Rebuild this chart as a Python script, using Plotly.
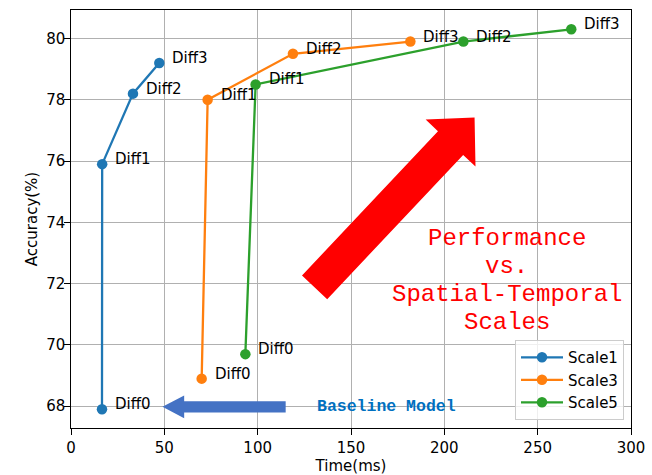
import math
import plotly.graph_objects as go

# ---------------- data ----------------
series_names = ["Scale1", "Scale3", "Scale5"]
series_colors = ["#1f77b4", "#ff7f0e", "#2ca02c"]
point_labels = ["Diff0", "Diff1", "Diff2", "Diff3"]

scale1_time = [16.6, 16.7, 33.2, 47.3]
scale1_acc = [67.9, 75.9, 78.2, 79.2]
scale3_time = [70.0, 73.2, 118.9, 181.8]
scale3_acc = [68.9, 78.0, 79.5, 79.9]
scale5_time = [93.4, 98.9, 210.2, 268.0]
scale5_acc = [69.7, 78.5, 79.9, 80.3]

x_ticks = [0, 50, 100, 150, 200, 250, 300]
y_ticks = [68, 70, 72, 74, 76, 78, 80]

title_lines = ["Performance", "vs.", "Spatial-Temporal", "Scales"]
baseline_text = "Baseline Model"

# ---------------- layout constants ----------------
W, H = 652, 475
ML, MR, MT, MB = 71, 21, 10, 47
XR = [0, 300]
YR = [67.29, 80.93]
PW, PH = W - ML - MR, H - MT - MB


def to_px(x, y):
    return (ML + (x - XR[0]) / (XR[1] - XR[0]) * PW,
            MT + (YR[1] - y) / (YR[1] - YR[0]) * PH)


def to_data(px, py):
    return (XR[0] + (px - ML) / PW * (XR[1] - XR[0]),
            YR[1] - (py - MT) / PH * (YR[1] - YR[0]))


def arrow_path(tail, tip, shaft_w, head_w, head_l):
    tx, ty = to_px(*tail)
    hx, hy = to_px(*tip)
    dx, dy = hx - tx, hy - ty
    L = math.hypot(dx, dy)
    ux, uy = dx / L, dy / L
    nx, ny = -uy, ux
    bx, by = hx - ux * head_l, hy - uy * head_l
    pts = [
        (tx + nx * shaft_w / 2, ty + ny * shaft_w / 2),
        (bx + nx * shaft_w / 2, by + ny * shaft_w / 2),
        (bx + nx * head_w / 2, by + ny * head_w / 2),
        (hx, hy),
        (bx - nx * head_w / 2, by - ny * head_w / 2),
        (bx - nx * shaft_w / 2, by - ny * shaft_w / 2),
        (tx - nx * shaft_w / 2, ty - ny * shaft_w / 2),
    ]
    d = []
    for i, (px, py) in enumerate(pts):
        x, y = to_data(px, py)
        d.append(("M" if i == 0 else "L") + f"{x:.4f},{y:.4f}")
    return " ".join(d) + " Z"


fig = go.Figure()

all_series = [
    (scale1_time, scale1_acc),
    (scale3_time, scale3_acc),
    (scale5_time, scale5_acc),
]

annotations = []
for name, color, (xs, ys) in zip(series_names, series_colors, all_series):
    fig.add_trace(go.Scatter(
        x=xs, y=ys, mode="lines+markers", name=name,
        line=dict(color=color, width=2.3),
        marker=dict(color=color, size=10.5),
    ))
    for lab, x, y in zip(point_labels, xs, ys):
        annotations.append(dict(
            x=x, y=y, xref="x", yref="y", text=lab, showarrow=False,
            xanchor="left", yanchor="middle", xshift=11, yshift=5,
            font=dict(family="DejaVu Sans", size=15, color="black"),
        ))

# Red big arrow
red_tail, red_tip = (130.5, 71.88), (216.2, 77.42)
# Blue arrow
blue_tail, blue_tip = (115.0, 67.98), (49.0, 67.98)

shapes = [
    dict(type="path", path=arrow_path(red_tail, red_tip, 34.6, 68.5, 35),
         xref="x", yref="y", fillcolor="#ff0000", line=dict(width=0),
         layer="above"),
    dict(type="path", path=arrow_path(blue_tail, blue_tip, 11.3, 22.7, 21.7),
         xref="x", yref="y", fillcolor="#4472c4", line=dict(width=0),
         layer="above"),
]

# red title text lines
for i, line in enumerate(title_lines):
    annotations.append(dict(
        x=233.4, y=73.48, xref="x", yref="y", text=line, showarrow=False,
        xanchor="center", yanchor="middle", yshift=-28.1 * i,
        font=dict(family="Liberation Mono", size=24, color="#ff0000"),
    ))

annotations.append(dict(
    x=131.6, y=67.98, xref="x", yref="y", text="<b>" + baseline_text + "</b>",
    showarrow=False, xanchor="left", yanchor="middle", xshift=-2,
    font=dict(family="Liberation Mono", size=16.5, color="#0070c0"),
))

axis_common = dict(
    showgrid=True, gridcolor="#b0b0b0", gridwidth=1.2,
    showline=True, linecolor="black", linewidth=1.25, mirror=True,
    ticks="outside", ticklen=5.5, tickwidth=1.25, tickcolor="black",
    zeroline=False, automargin=False,
    tickfont=dict(family="DejaVu Sans", size=15, color="black"),
)

fig.update_layout(
    template="none",
    width=W, height=H,
    margin=dict(l=ML, r=MR, t=MT, b=MB, autoexpand=False),
    paper_bgcolor="white", plot_bgcolor="white",
    xaxis=dict(range=XR, tickvals=x_ticks,
               title=dict(text="Time(ms)", standoff=4,
                          font=dict(family="DejaVu Sans", size=15, color="black")),
               **axis_common),
    yaxis=dict(range=YR, tickvals=y_ticks, ticklabelstandoff=-4,
               title=dict(text="Accuracy(%)", standoff=5,
                          font=dict(family="DejaVu Sans", size=15, color="black")),
               **axis_common),
    legend=dict(x=0.9875, y=0.019, xanchor="right", yanchor="bottom",
                bgcolor="rgba(255,255,255,0.8)", bordercolor="#cccccc",
                borderwidth=1, font=dict(family="DejaVu Sans", size=15, color="black"),
                tracegroupgap=0, itemwidth=42),
    shapes=shapes,
    annotations=annotations,
    showlegend=True,
)

fig.write_html("out.html", config={"displayModeBar": False},
               post_script="document.body.style.margin='0';document.body.style.overflow='hidden';")
